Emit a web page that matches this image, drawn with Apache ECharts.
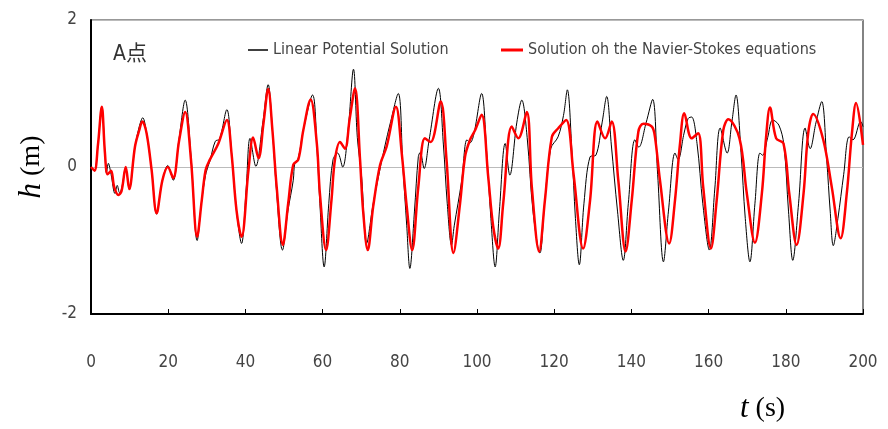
<!DOCTYPE html>
<html>
<head>
<meta charset="utf-8">
<script src="https://cdn.jsdelivr.net/npm/echarts@6/dist/echarts.min.js"></script>
<style>html,body{margin:0;padding:0;background:#fff}#c{width:888px;height:429px}</style>
</head>
<body>
<div id="c"></div>
<script>
// ---- data ----
var xTicks = [0, 20, 40, 60, 80, 100, 120, 140, 160, 180, 200];
var yTicks = [-2, 0, 2];
var seriesNames = ['Linear Potential Solution', 'Solution oh the Navier-Stokes equations'];
var pointLabel = 'A点';

var linT = [0,0.9,1.8,2.8,3.6,4.0,4.5,5.2,6.2,6.8,7.4,7.9,9.0,9.9,11.4,12.5,13.4,14.4,15.7,17.0,18.5,19.9,21.3,22.8,24.4,25.9,27.5,28.7,29.8,30.8,32.2,33.3,35.2,36.4,37.7,39.0,40.2,41.2,42.7,44.5,45.9,47.0,48.1,49.6,51.0,52.4,52.8,53.7,55.0,57.4,58.6,59.3,60.4,61.6,62.7,63.9,65.2,66.6,68.0,69.0,70.1,71.4,73.1,75.1,76.2,77.5,79.6,80.8,81.8,82.6,83.8,84.8,85.3,86.3,87.6,90.0,91.3,92.3,93.4,94.1,96.0,97.4,98.2,99.2,101.2,102.5,103.6,104.7,105.8,107.3,108.5,110.3,111.6,113.0,114.5,116.3,117.5,119.1,121.0,122.4,123.4,124.6,125.5,126.5,127.7,129.3,130.8,132.4,133.6,134.8,136.4,137.9,139.2,140.9,141.9,143.8,145.5,146.8,148.3,149.6,151.3,152.1,153.6,154.7,155.6,157.0,158.5,160.2,161.6,163.0,164.8,166.0,167.1,168.4,169.5,170.7,172.0,173.3,174.0,175.3,176.6,178.2,179.5,180.7,181.8,183.3,185.0,186.3,187.8,189.3,190.6,191.5,192.3,193.5,195.0,196.4,197.4,199.4,200];
var linH = [0,-0.05,0.3,0.82,0.2,-0.08,0.05,-0.1,-0.36,-0.25,-0.35,-0.3,-0.02,-0.3,0.28,0.55,0.67,0.46,-0.04,-0.64,-0.18,0.02,-0.18,0.38,0.91,0.15,-1.0,-0.45,-0.08,0.08,0.35,0.38,0.78,0.2,-0.6,-1.04,-0.3,0.39,0.01,0.6,1.12,0.5,-0.35,-1.13,-0.6,-0.18,0.05,0.12,0.5,0.98,0.2,-0.5,-1.36,-0.5,0.1,0.19,0.0,0.5,1.33,0.4,-0.13,-1.04,-0.5,0.03,0.3,0.59,1.0,0.0,-0.8,-1.38,-0.6,0.14,0.2,-0.02,0.37,1.07,0.3,-0.5,-1.06,-0.8,-0.2,0.37,0.33,0.45,1.0,0.2,-0.7,-1.36,-0.6,0.32,-0.11,0.6,0.91,0.4,-0.6,-1.17,-0.5,0.25,0.41,0.7,1.05,0.2,-0.7,-1.33,-0.5,0.14,0.16,0.6,0.96,0.3,-0.6,-1.27,-0.5,0.37,0.27,0.6,0.92,-0.1,-1.29,-0.6,0.19,0.1,0.45,0.66,0.68,0.32,-0.5,-1.13,-0.3,0.53,0.19,0.6,0.98,0.2,-0.7,-1.29,-0.5,0.19,0.16,0.4,0.64,0.57,0.3,-0.6,-1.27,-0.5,0.53,0.25,0.6,0.89,0.1,-0.6,-1.07,-0.7,-0.1,0.41,0.37,0.62,0.55];

var nsT = [0,0.9,1.8,2.8,3.6,4.3,5.2,6.0,7.1,7.9,9.0,9.9,11.4,12.5,13.3,14.4,15.7,17.0,18.5,19.9,21.3,22.8,24.4,25.9,27.5,28.7,29.7,30.8,33.0,35.2,36.4,37.7,39.0,40.8,42.0,43.4,44.7,45.9,47.0,48.1,49.7,51.1,52.4,53.7,55.0,56.9,58.5,59.3,60.9,62.3,63.2,64.5,65.8,67.0,68.4,69.7,70.5,71.7,73.1,74.9,76.6,79.0,80.5,81.8,83.2,84.8,86.5,88.0,90.6,92.1,93.9,95.6,96.9,98.2,99.5,101.2,102.9,104.2,105.5,106.8,109.0,110.7,112.9,114.2,116.1,117.6,119.4,121.1,123.1,125.0,127.5,129.3,131.2,133.2,134.9,136.6,138.5,140.1,141.8,143.1,145.3,146.1,147.4,149.8,151.3,152.6,153.7,155.6,157.3,158.6,160.6,162.1,163.8,165.1,168.0,169.9,172.0,173.8,174.9,175.9,177.5,179.4,180.9,182.8,184.6,185.8,187.1,189.7,191.9,194.2,195.8,197.1,198.2,200];
var nsH = [0,-0.05,0.3,0.82,0.2,-0.1,-0.05,-0.27,-0.38,-0.33,0.0,-0.3,0.28,0.5,0.62,0.46,-0.04,-0.63,-0.18,0.0,-0.15,0.35,0.75,0.1,-0.95,-0.45,-0.04,0.1,0.32,0.64,0.19,-0.59,-0.95,-0.04,0.4,0.12,0.6,1.06,0.5,-0.27,-1.06,-0.49,0.03,0.1,0.5,0.92,0.32,-0.36,-1.13,-0.45,0.1,0.34,0.25,0.65,1.07,0.1,-0.6,-1.13,-0.54,0.03,0.28,0.82,0.19,-0.54,-1.13,-0.27,0.39,0.34,0.89,0.1,-1.17,-0.5,0.14,0.37,0.5,0.71,-0.13,-0.81,-1.11,-0.49,0.55,0.39,0.75,-0.27,-1.15,-0.45,0.41,0.53,0.64,-0.09,-1.11,-0.45,0.62,0.39,0.62,-0.18,-1.15,-0.45,0.48,0.59,0.55,0.41,-0.18,-1.04,-0.45,0.32,0.73,0.39,0.46,-0.27,-1.11,-0.45,0.5,0.65,0.39,-0.36,-1.03,-0.36,0.41,0.81,0.39,0.32,-0.36,-1.06,-0.36,0.46,0.72,0.37,-0.27,-0.97,-0.36,0.44,0.87,0.3];

function pairs(t, h) { return t.map(function (v, i) { return [v, h[i]]; }); }

var FONT = '"Liberation Sans Narrow", "DejaVu Sans Condensed", "Noto Sans CJK JP", sans-serif';
var chart = echarts.init(document.getElementById('c'), null, {renderer: 'canvas'});
chart.setOption({
  animation: false,
  backgroundColor: '#fff',
  grid: {left: 91, right: 25, top: 20, bottom: 115, show: true, borderColor: '#333', borderWidth: 1.2},
  legend: [
    {data: [seriesNames[0]], left: 243, top: 37, icon: 'rect', itemWidth: 20, itemHeight: 1.5, itemGap: 10,
     textStyle: {fontFamily: FONT, fontSize: 16, color: '#444'}},
    {data: [seriesNames[1]], left: 496, top: 37, icon: 'rect', itemWidth: 22, itemHeight: 3, itemGap: 10,
     textStyle: {fontFamily: FONT, fontSize: 16, color: '#444'}}
  ],
  xAxis: {
    type: 'value', min: xTicks[0], max: xTicks[xTicks.length - 1], interval: 20,
    axisLine: {onZero: false, lineStyle: {color: '#000', width: 2}},
    axisTick: {inside: true, length: 5, lineStyle: {color: '#000', width: 1}},
    axisLabel: {margin: 40, fontFamily: FONT, fontSize: 17, color: '#444'},
    splitLine: {show: false}
  },
  yAxis: {
    type: 'value', min: yTicks[0], max: yTicks[yTicks.length - 1], interval: 2,
    name: '{i|h} (m)', nameLocation: 'middle', nameGap: 44, nameRotate: 90,
    nameTextStyle: {fontFamily: '"Liberation Serif", serif', fontSize: 28, color: '#000',
      rich: {i: {fontFamily: '"Liberation Serif", serif', fontSize: 31, fontStyle: 'italic', color: '#000'}}},
    axisLine: {onZero: false, lineStyle: {color: '#000', width: 2}},
    axisTick: {show: false},
    axisLabel: {margin: 14, fontFamily: FONT, fontSize: 17, color: '#444'},
    splitLine: {show: true, lineStyle: {color: '#bbb', width: 1}}
  },
  graphic: [
    {type: 'text', left: 113, top: 44, style: {text: pointLabel, font: '21px ' + FONT, fill: '#333'}},
    {type: 'text', left: 740, top: 393, style: {text: '{i|t} (s)', font: '28px "Liberation Serif", serif', fill: '#000',
      rich: {i: {fontStyle: 'italic', fontSize: 31, fontFamily: '"Liberation Serif", serif'}}}}
  ],
  series: [
    {name: seriesNames[0], type: 'line', data: pairs(linT, linH), showSymbol: false, symbol: 'none',
     smooth: 0.35, lineStyle: {color: '#000', width: 1}, itemStyle: {color: '#000'}, z: 2},
    {name: seriesNames[1], type: 'line', data: pairs(nsT, nsH), showSymbol: false, symbol: 'none',
     smooth: 0.35, lineStyle: {color: '#ff0000', width: 2.5}, itemStyle: {color: '#ff0000'}, z: 3}
  ]
});
</script>
</body>
</html>
